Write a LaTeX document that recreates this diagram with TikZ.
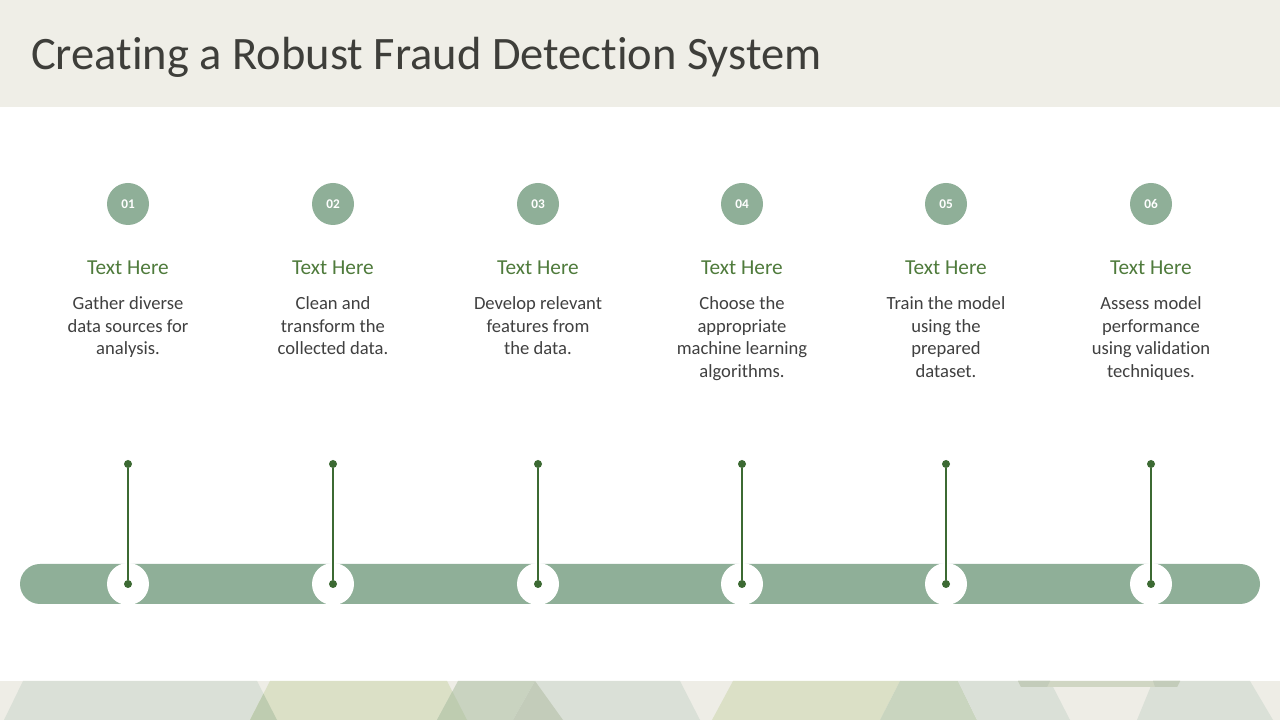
\documentclass[tikz,border=0pt]{standalone}
\usepackage{fontspec}
\setmainfont{Carlito}[Ligatures=NoCommon]
\usepackage{xcolor}
\usetikzlibrary{positioning}

\definecolor{headbg}{HTML}{EFEEE7}
\definecolor{titlegray}{HTML}{3E3E3A}
\definecolor{sage}{HTML}{8FAF98}
\definecolor{leaf}{HTML}{4F7B3C}
\definecolor{stemgreen}{HTML}{3C6A33}
\definecolor{bodygray}{HTML}{404040}
\definecolor{bandbg}{HTML}{EEEDE6}
\definecolor{triA}{HTML}{DAE0D7}
\definecolor{triB}{HTML}{DBE0C6}
\definecolor{triC}{HTML}{C9D3C0}
\definecolor{triF}{HTML}{C9D5BF}
\definecolor{triX}{HTML}{BECCB0}
\definecolor{triS}{HTML}{D0D6C3}
\definecolor{triT}{HTML}{C3CCBA}

\begin{document}
\begin{tikzpicture}[
  x=1pt,y=1pt,
  num/.style={circle,fill=sage,text=white,minimum size=42pt,inner sep=0pt,font=\fontsize{13.3}{15}\selectfont\bfseries},
  head/.style={anchor=base,text=leaf,inner sep=0pt,font=\fontsize{21.3}{25}\selectfont},
  body/.style={anchor=north,align=center,text=bodygray,inner sep=0pt,font=\fontsize{18.6}{22.6}\selectfont},
  dot/.style={circle,fill=stemgreen,minimum size=8pt,inner sep=0pt},
  hole/.style={circle,fill=white,minimum size=42pt,inner sep=0pt},
  stem/.style={stemgreen,line width=1.5pt}
]
\useasboundingbox (0,0) rectangle (1280,720);
\fill[white] (0,0) rectangle (1280,720);
% header
\fill[headbg] (0,613) rectangle (1280,720);
\node[anchor=base west,inner sep=0pt,text=titlegray,font=\fontsize{46.5}{56}\selectfont] (title) at (31,650) {Creating a Robust Fraud Detection System};

% bottom band
\fill[bandbg] (0,0) rectangle (1280,39);
\fill[triA] (23,39) -- (257,39) -- (277,0) -- (4,0) -- cycle;
\fill[triB] (270,39) -- (447,39) -- (467,0) -- (250,0) -- cycle;
\fill[triX] (263.5,26.3) -- (277,0) -- (250,0) -- cycle;
\fill[triC] (458,39) -- (535,39) -- (563,0) -- (437,0) -- cycle;
\fill[triX] (452.4,28.5) -- (467,0) -- (437,0) -- cycle;
\fill[triA] (535,39) -- (680,39) -- (700,0) -- (513,0) -- cycle;
\fill[triT] (535,39) -- (563,0) -- (513,0) -- cycle;
\fill[triB] (733,39) -- (900,39) -- (880,0) -- (712,0) -- cycle;
\fill[triF] (900,39) -- (958,39) -- (977,0) -- (880,0) -- cycle;
\fill[triA] (958,39) -- (1050,39) -- (1070,0) -- (977,0) -- cycle;
\fill[triA] (1153,39) -- (1250,39) -- (1273,0) -- (1137,0) -- cycle;
\fill[triS] (1018,39) -- (1180,39) -- (1177,33) -- (1021,33) -- cycle;
\fill[triT] (1018,39) -- (1050,39) -- (1047,33) -- (1021,33) -- cycle;
\fill[triT] (1153,39) -- (1180,39) -- (1177,33) -- (1155,33) -- cycle;

% timeline bar
\fill[sage,rounded corners=20pt] (20,116) rectangle (1260,156);

% step 1
\node[num] (n1) at (128,516) {01};
\node[head] (h1) at (128,445) {Text Here};
\node[body] (b1) at (128,423.5) {Gather diverse\\data sources for\\analysis.};
\node[hole] (w1) at (128,136) {};
\node[dot] (t1) at (128,256) {};
\node[dot] (d1) at (128,136) {};
\draw[stem] (t1) -- (d1);

% step 2
\node[num] (n2) at (333,516) {02};
\node[head] (h2) at (333,445) {Text Here};
\node[body] (b2) at (333,423.5) {Clean and\\transform the\\collected data.};
\node[hole] (w2) at (333,136) {};
\node[dot] (t2) at (333,256) {};
\node[dot] (d2) at (333,136) {};
\draw[stem] (t2) -- (d2);

% step 3
\node[num] (n3) at (538,516) {03};
\node[head] (h3) at (538,445) {Text Here};
\node[body] (b3) at (538,423.5) {Develop relevant\\features from\\the data.};
\node[hole] (w3) at (538,136) {};
\node[dot] (t3) at (538,256) {};
\node[dot] (d3) at (538,136) {};
\draw[stem] (t3) -- (d3);

% step 4
\node[num] (n4) at (742,516) {04};
\node[head] (h4) at (742,445) {Text Here};
\node[body] (b4) at (742,423.5) {Choose the\\appropriate\\machine learning\\algorithms.};
\node[hole] (w4) at (742,136) {};
\node[dot] (t4) at (742,256) {};
\node[dot] (d4) at (742,136) {};
\draw[stem] (t4) -- (d4);

% step 5
\node[num] (n5) at (946,516) {05};
\node[head] (h5) at (946,445) {Text Here};
\node[body] (b5) at (946,423.5) {Train the model\\using the\\prepared\\dataset.};
\node[hole] (w5) at (946,136) {};
\node[dot] (t5) at (946,256) {};
\node[dot] (d5) at (946,136) {};
\draw[stem] (t5) -- (d5);

% step 6
\node[num] (n6) at (1151,516) {06};
\node[head] (h6) at (1151,445) {Text Here};
\node[body] (b6) at (1151,423.5) {Assess model\\performance\\using validation\\techniques.};
\node[hole] (w6) at (1151,136) {};
\node[dot] (t6) at (1151,256) {};
\node[dot] (d6) at (1151,136) {};
\draw[stem] (t6) -- (d6);
\end{tikzpicture}
\end{document}
